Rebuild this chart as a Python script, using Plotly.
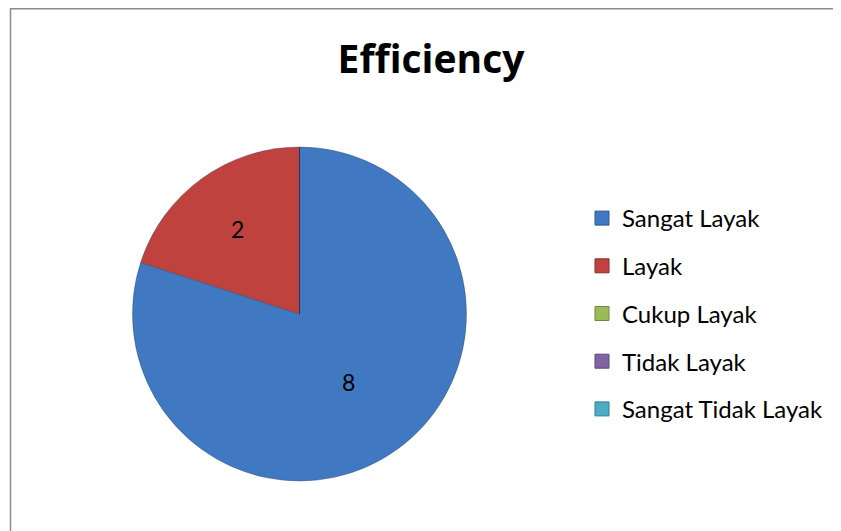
import plotly.graph_objects as go

categories = ["Sangat Layak", "Layak", "Cukup Layak", "Tidak Layak", "Sangat Tidak Layak"]
values = [8, 2, 0, 0, 0]
colors = ["#4079C2", "#C0423F", "#9BBB59", "#8064A2", "#4BACC6"]
edge_colors = ["#2C5A95", "#8C2D2B", "#71893F", "#5C4876", "#357E92"]

W, H = 841, 531
OFF = 8  # page body margin
FONT = "Lato"


def px(x):
    return (x - OFF) / W


def py(y):
    return 1 - (y - OFF) / H


fig = go.Figure()

fig.add_trace(go.Pie(
    labels=categories,
    values=values,
    sort=False,
    direction="clockwise",
    rotation=0,
    marker=dict(colors=colors, line=dict(color="rgba(40,50,80,0.45)", width=0.8)),
    textinfo="value",
    textposition="inside",
    insidetextorientation="horizontal",
    textfont=dict(family=FONT, size=23, color="black"),
    domain=dict(x=[px(132), px(467)], y=[py(481), py(147)]),
    showlegend=False,
    hoverinfo="label+value",
))

# legend entries (one per category, same colours as slices)
for i, (name, c, e) in enumerate(zip(categories, colors, edge_colors)):
    fig.add_trace(go.Scatter(
        x=[None], y=[None], mode="markers", name=name,
        legendgroup=f"g{i}",
        marker=dict(symbol="square", size=14, color=c, line=dict(color=e, width=1)),
        hoverinfo="skip",
    ))

fig.update_layout(
    width=W, height=H,
    margin=dict(l=0, r=0, t=0, b=0),
    paper_bgcolor="white",
    plot_bgcolor="white",
    font=dict(family=FONT, color="black"),
    xaxis=dict(visible=False),
    yaxis=dict(visible=False),
    title=dict(text="<b>Efficiency</b>", x=px(431), y=py(59),
               xanchor="center", yanchor="middle",
               font=dict(family="Open Sans", size=39, color="black")),
    legend=dict(x=px(582), y=py(196), xanchor="left", yanchor="top",
                font=dict(family=FONT, size=24, color="black"),
                tracegroupgap=13.5, itemclick=False, itemdoubleclick=False,
                bgcolor="rgba(0,0,0,0)"),
    shapes=[
        dict(type="line", xref="paper", yref="paper", x0=px(10.5), x1=1, y0=1 - 0.75 / H, y1=1 - 0.75 / H,
             line=dict(color="#8C8C8C", width=1.5)),
        dict(type="line", xref="paper", yref="paper", x0=px(10.5), x1=px(10.5), y0=0, y1=1,
             line=dict(color="#8C8C8C", width=1.5)),
    ],
)

fig.write_html("out.html")
